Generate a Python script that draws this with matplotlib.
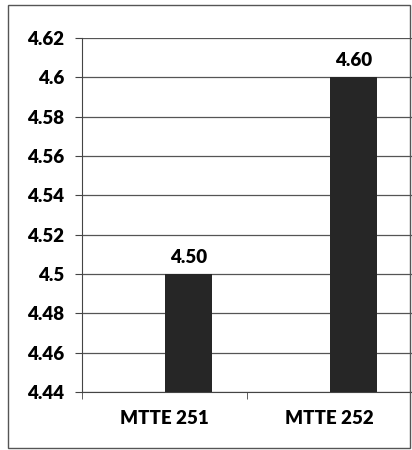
import matplotlib.pyplot as plt
from matplotlib.patches import Rectangle

courses = ["MTTE 251", "MTTE 252"]
scores = [4.50, 4.60]
yticks = [4.44, 4.46, 4.48, 4.5, 4.52, 4.54, 4.56, 4.58, 4.6, 4.62]
ytick_labels = ["4.44", "4.46", "4.48", "4.5", "4.52", "4.54", "4.56", "4.58", "4.6", "4.62"]

plt.rcParams['font.family'] = ['Lato', 'DejaVu Sans']

fig = plt.figure(figsize=(4.12, 4.5), dpi=100)
ax = fig.add_axes([0.199, 0.129, 0.801, 0.787])

pos = [i + 0.145 for i in range(len(courses))]
ax.bar(pos, scores, width=0.28, color="#262626", zorder=3)
for x, v in zip(pos, scores):
    ax.text(x, v + 0.004, f"{v:.2f}", ha="center", va="bottom",
            fontsize=13.5, fontweight="heavy")

ax.set_ylim(4.44, 4.62)
ax.set_xlim(-0.5, 1.5)
ax.set_yticks(yticks)
ax.set_yticklabels(ytick_labels, fontsize=13.5, fontweight="heavy")
ax.set_xticks(range(len(courses)))
ax.set_xticklabels(courses, fontsize=13.5, fontweight="heavy")
ax.tick_params(axis="x", which="major", length=0, pad=13)
ax.set_xticks([-0.5, 0.5, 1.5], minor=True)
ax.tick_params(axis="x", which="minor", length=5, color="#444444")
ax.tick_params(axis="y", length=5, color="#444444", pad=8)
ax.yaxis.grid(True, color="#555555", linewidth=0.9, zorder=0)
ax.set_axisbelow(True)
for s in ["top", "right"]:
    ax.spines[s].set_visible(False)
ax.spines["left"].set_color("#444444")
ax.spines["bottom"].set_color("#444444")

fig.patches.append(Rectangle((0.02, 0.005), 0.975, 0.983, transform=fig.transFigure,
                             fill=False, edgecolor="#555555", linewidth=1))

fig.savefig("out.png", dpi=100)
